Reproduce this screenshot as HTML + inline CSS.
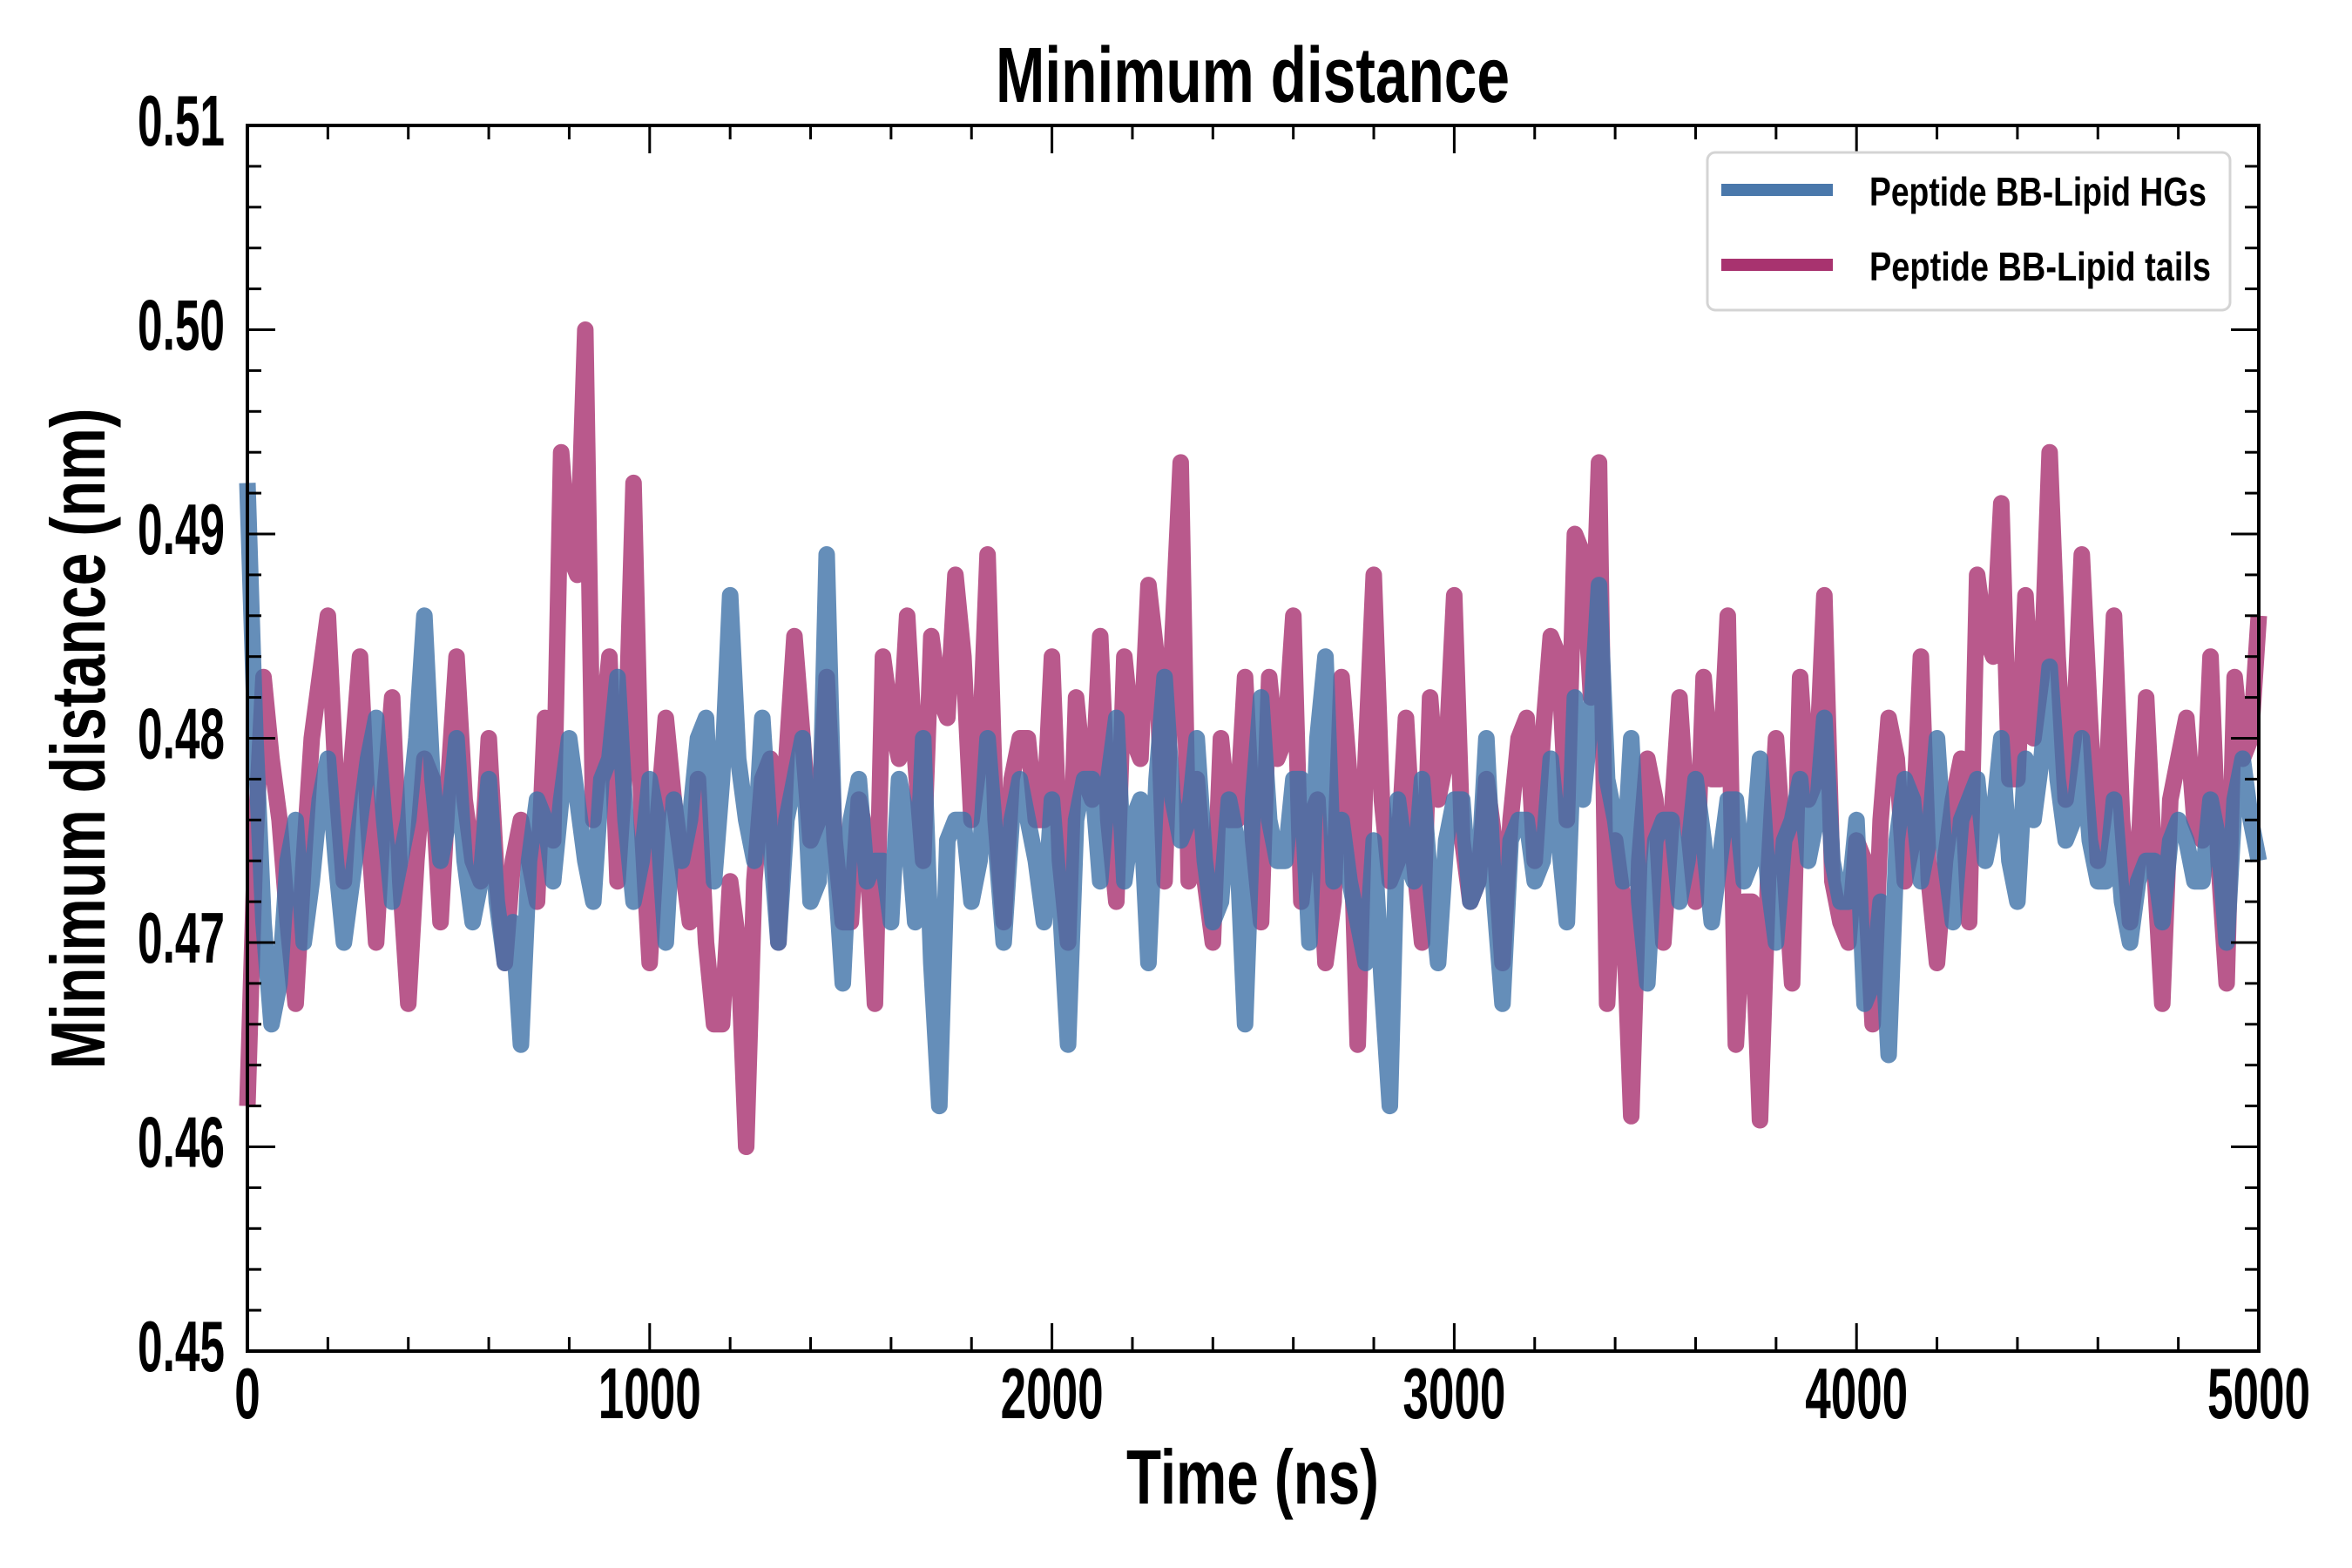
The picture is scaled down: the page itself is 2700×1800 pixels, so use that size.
<!DOCTYPE html>
<html><head><meta charset="utf-8"><style>
html,body{margin:0;padding:0;background:#fff;}
svg{display:block;}
text{font-family:"Liberation Sans Narrow","Liberation Sans",sans-serif;font-weight:bold;fill:#000;}
</style></head><body>
<svg id="chart" width="2700" height="1800" viewBox="0 0 2700 1800" xmlns="http://www.w3.org/2000/svg">
<rect width="2700" height="1800" fill="#fff"/>
<g id="series"></g>
<g id="axes"></g>
<text x="1438" y="117" text-anchor="middle" font-size="90" textLength="590" lengthAdjust="spacingAndGlyphs">Minimum distance</text>
<text x="1438" y="1726" text-anchor="middle" font-size="88" textLength="290" lengthAdjust="spacingAndGlyphs">Time (ns)</text>
<text transform="translate(120,848) rotate(-90)" text-anchor="middle" font-size="88" textLength="759" lengthAdjust="spacingAndGlyphs">Minimum distance (nm)</text>
<g>
<rect x="1960" y="175" width="600" height="181" rx="9" fill="#fff" stroke="#d4d4d4" stroke-width="3"/>
<line x1="1976" y1="218" x2="2104" y2="218" stroke="#4a78ab" stroke-width="14"/>
<text x="2146" y="236" font-size="46" textLength="387" lengthAdjust="spacingAndGlyphs">Peptide BB-Lipid HGs</text>
<line x1="1976" y1="304" x2="2104" y2="304" stroke="#a8336f" stroke-width="14"/>
<text x="2146" y="322" font-size="46" textLength="392" lengthAdjust="spacingAndGlyphs">Peptide BB-Lipid tails</text>
</g>
</svg>
<script>
// samples at t = 0, 40, 80 ... 5000 ns
const coarseStep = 40;
const hgValues = [0.4925,0.471,0.468,0.476,0.473,0.479,0.470,0.476,0.481,0.472,0.476,
0.486,0.474,0.480,0.471,0.478,0.469,0.465,0.477,0.473,0.480,
0.474,0.478,0.483,0.472,0.478,0.470,0.474,0.480,0.473,0.487,
0.476,0.481,0.470,0.478,0.472,0.489,0.468,0.478,0.474,0.471,
0.476,0.480,0.462,0.476,0.472,0.480,0.470,0.478,0.474,0.477,
0.465,0.478,0.473,0.481,0.476,0.469,0.483,0.475,0.480,0.471,
0.477,0.466,0.482,0.474,0.478,0.470,0.484,0.476,0.471,0.475,
0.462,0.474,0.478,0.469,0.477,0.472,0.480,0.467,0.476,0.473,
0.479,0.471,0.477,0.4875,0.476,0.480,0.468,0.476,0.472,0.478,
0.471,0.477,0.473,0.479,0.470,0.476,0.474,0.481,0.472,0.476,
0.468,0.4645,0.478,0.473,0.480,0.471,0.477,0.474,0.480,0.472,
0.476,0.4835,0.475,0.480,0.473,0.477,0.470,0.474,0.471,0.476,
0.473,0.477,0.470,0.479,0.474];
// samples at t = 20, 60, 100 ... 4980 ns
const hgMidValues = [0.480,0.466,0.474,0.470,0.477,0.474,0.473,0.479,0.476,0.474,
0.480,0.478,0.476,0.474,0.473,0.472,0.471,0.474,0.476,0.477,
0.477,0.472,0.479,0.476,0.474,0.476,0.477,0.476,0.481,0.478,
0.479,0.474,0.475,0.476,0.480,0.473,0.474,0.476,0.473,0.474,
0.478,0.471,0.469,0.475,0.476,0.474,0.475,0.476,0.476,0.471,
0.472,0.476,0.478,0.478,0.473,0.477,0.478,0.477,0.476,0.474,
0.472,0.475,0.477,0.476,0.474,0.478,0.480,0.473,0.473,0.469,
0.468,0.477,0.473,0.473,0.475,0.477,0.473,0.472,0.475,0.476,
0.474,0.475,0.482,0.481,0.478,0.473,0.472,0.475,0.476,0.474,
0.475,0.474,0.477,0.474,0.473,0.475,0.478,0.476,0.474,0.472,
0.467,0.472,0.475,0.477,0.475,0.474,0.476,0.478,0.476,0.474,
0.479,0.479,0.478,0.476,0.475,0.473,0.472,0.473,0.474,0.475,
0.475,0.473,0.475,0.477,0.476];
const tailValues = [0.462,0.483,0.476,0.467,0.480,0.486,0.473,0.484,0.470,0.482,0.467,
0.479,0.471,0.484,0.474,0.480,0.469,0.476,0.472,0.475,0.489,
0.500,0.480,0.473,0.4925,0.469,0.481,0.474,0.478,0.466,0.473,
0.460,0.478,0.470,0.485,0.475,0.483,0.471,0.477,0.467,0.481,
0.486,0.474,0.482,0.488,0.476,0.489,0.471,0.480,0.476,0.484,
0.470,0.478,0.485,0.472,0.480,0.4875,0.473,0.4935,0.478,0.470,
0.476,0.483,0.471,0.479,0.486,0.476,0.469,0.483,0.465,0.488,
0.473,0.481,0.470,0.477,0.487,0.472,0.478,0.469,0.480,0.474,
0.485,0.476,0.489,0.4935,0.475,0.4615,0.479,0.470,0.482,0.472,
0.478,0.486,0.472,0.4613,0.480,0.468,0.477,0.487,0.471,0.475,
0.466,0.481,0.473,0.484,0.469,0.477,0.471,0.485,0.4915,0.478,
0.480,0.494,0.477,0.489,0.474,0.486,0.471,0.482,0.467,0.479,
0.476,0.484,0.468,0.479,0.486];
const tailMidValues = [0.475,0.479,0.471,0.474,0.483,0.478,0.479,0.476,0.477,0.473,
0.474,0.478,0.478,0.477,0.473,0.473,0.474,0.474,0.481,0.494,
0.488,0.476,0.484,0.479,0.476,0.476,0.477,0.471,0.470,0.466,
0.470,0.473,0.479,0.479,0.480,0.476,0.475,0.471,0.475,0.484,
0.479,0.479,0.485,0.481,0.484,0.479,0.476,0.478,0.480,0.476,
0.474,0.482,0.477,0.476,0.484,0.479,0.484,0.485,0.473,0.473,
0.480,0.476,0.475,0.483,0.480,0.472,0.477,0.472,0.478,0.479,
0.477,0.474,0.474,0.482,0.479,0.475,0.473,0.475,0.476,0.481,
0.480,0.484,0.490,0.482,0.467,0.472,0.474,0.477,0.476,0.476,
0.483,0.478,0.465,0.472,0.473,0.474,0.483,0.478,0.473,0.470,
0.474,0.476,0.479,0.475,0.473,0.474,0.479,0.488,0.484,0.478,
0.487,0.483,0.484,0.480,0.481,0.477,0.476,0.474,0.474,0.477,
0.481,0.475,0.474,0.483,0.480];
const xTicks = [0,1000,2000,3000,4000,5000];
const xTickLabels = ["0","1000","2000","3000","4000","5000"];
const yTicks = [0.45,0.46,0.47,0.48,0.49,0.50,0.51];
const yTickLabels = ["0.45","0.46","0.47","0.48","0.49","0.50","0.51"];

const L=284,R=2593,T=144,B=1551;
const xMin=0,xMax=5000,yMin=0.45,yMax=0.51;
function sx(v){return L+(v-xMin)/(xMax-xMin)*(R-L);}
function sy(v){return B-(v-yMin)/(yMax-yMin)*(B-T);}
const NS="http://www.w3.org/2000/svg";
function mk(tag,attrs,parent){const e=document.createElementNS(NS,tag);for(const k in attrs)e.setAttribute(k,attrs[k]);parent.appendChild(e);return e;}

function mergeSamples(main,mids){
  const pts=[];
  main.forEach((v,i)=>{
    pts.push([i*coarseStep,v]);
    if(i<mids.length) pts.push([i*coarseStep+coarseStep/2,mids[i]]);
  });
  return pts;
}

const sg=document.getElementById('series');
function drawSeries(pts,color,name){
  let d='';
  pts.forEach((p,i)=>{d+=(i?'L':'M')+sx(p[0]).toFixed(1)+','+sy(p[1]).toFixed(1);});
  const p=mk('path',{d:d,fill:'none',stroke:color,'stroke-width':19,'stroke-opacity':0.8,'stroke-linejoin':'round','stroke-linecap':'butt'},sg);
  
  
}
drawSeries(mergeSamples(tailValues,tailMidValues),'#a8306f','series-lipid-tails');
drawSeries(mergeSamples(hgValues,hgMidValues),'#3f72a8','series-lipid-hgs');

const ag=document.getElementById('axes');
for(let t=0;t<=5000;t+=200){
  const major=t%1000===0, len=major?32:16, x=sx(t);
  const a=mk('line',{x1:x,y1:B,x2:x,y2:B-len,stroke:'#000','stroke-width':3},ag);
  
  
  const b=mk('line',{x1:x,y1:T,x2:x,y2:T+len,stroke:'#000','stroke-width':3},ag);
  
  
}
for(let k=0;k<=30;k++){
  const v=0.45+k*0.002, major=k%5===0, len=major?32:16, y=sy(v);
  const a=mk('line',{x1:L,y1:y,x2:L+len,y2:y,stroke:'#000','stroke-width':3},ag);
  
  
  const b=mk('line',{x1:R,y1:y,x2:R-len,y2:y,stroke:'#000','stroke-width':3},ag);
  
  
}
const frame=mk('rect',{x:L,y:T,width:R-L,height:B-T,fill:'none',stroke:'#000','stroke-width':4},ag);


xTicks.forEach((t,i)=>{
  const lab=xTickLabels[i];
  const tx=mk('text',{x:sx(t),y:1628,'text-anchor':'middle','font-size':83,textLength:lab.length*29.5,lengthAdjust:'spacingAndGlyphs'},ag);
  tx.textContent=lab;
  
  
});
yTicks.forEach((v,i)=>{
  const lab=yTickLabels[i];
  const tx=mk('text',{x:258,y:sy(v)+23,'text-anchor':'end','font-size':83,textLength:100,lengthAdjust:'spacingAndGlyphs'},ag);
  tx.textContent=lab;
  
  
});
</script>
</body></html>
